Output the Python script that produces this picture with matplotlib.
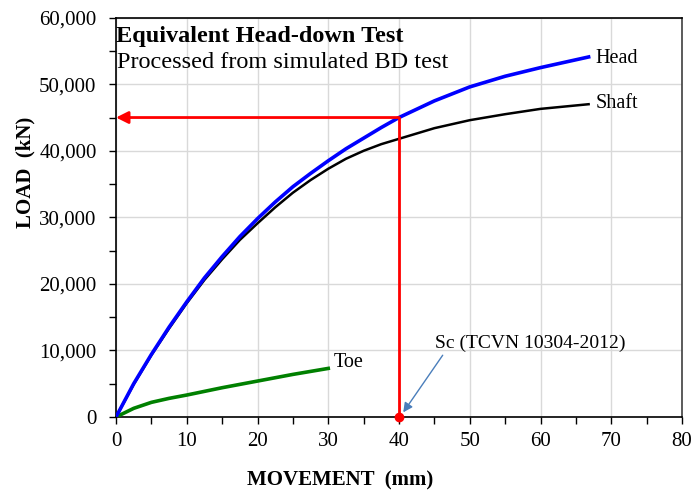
import matplotlib
matplotlib.use("Agg")
import matplotlib.pyplot as plt
from matplotlib.ticker import MultipleLocator, FuncFormatter

plt.rcParams['font.family'] = ['Liberation Serif', 'DejaVu Serif']

# Data (movement in mm, load in kN)
head_x = [0, 2.5, 5, 7.5, 10, 12.5, 15, 17.5, 20, 22.5, 25, 27.5, 30, 32.5, 35, 37.5, 40, 45, 50, 55, 60, 66.8]
head_y = [0, 5000, 9400, 13500, 17300, 20900, 24100, 27100, 29800, 32300, 34600, 36600, 38500, 40300, 41900, 43500, 45000, 47500, 49600, 51200, 52500, 54100]
shaft_x = [0, 2.5, 5, 7.5, 10, 12.5, 15, 17.5, 20, 22.5, 25, 27.5, 30, 32.5, 35, 37.5, 40, 45, 50, 55, 60, 66.8]
shaft_y = [0, 4900, 9300, 13300, 17100, 20600, 23700, 26600, 29100, 31500, 33700, 35600, 37300, 38800, 40000, 41000, 41800, 43400, 44600, 45500, 46300, 47000]
toe_x = [0, 2.5, 5, 7.5, 10, 15, 20, 25, 30]
toe_y = [0, 1300, 2200, 2800, 3300, 4400, 5400, 6400, 7300]

sc_x = 40
sc_load = 45000

x_ticks = [0, 10, 20, 30, 40, 50, 60, 70, 80]
y_ticks = [0, 10000, 20000, 30000, 40000, 50000, 60000]

fig = plt.figure(figsize=(6.92, 4.91), dpi=100)
ax = fig.add_axes([116/692, 74/491, 566/692, 399.3/491])

ax.set_xlim(0, 80)
ax.set_ylim(0, 60000)
ax.set_xticks(x_ticks)
ax.set_yticks(y_ticks)
ax.xaxis.set_minor_locator(MultipleLocator(5))
ax.yaxis.set_minor_locator(MultipleLocator(5000))
ax.yaxis.set_major_formatter(FuncFormatter(lambda v, p: f"{int(v):,}"))
ax.tick_params(which='both', direction='out', length=5, width=1, labelsize=15, colors='black')
ax.tick_params(axis='x', pad=6)
ax.tick_params(axis='y', pad=9)
ax.grid(True, which='major', color='#d9d9d9', linewidth=1)
ax.set_axisbelow(True)
for s in ax.spines.values():
    s.set_linewidth(1.2)
    s.set_color('black')
ax.spines['right'].set_color('#404040')

ax.plot(shaft_x, shaft_y, color='black', lw=1.8, zorder=3)
ax.plot(head_x, head_y, color='#0000ff', lw=2.6, zorder=4)
ax.plot(toe_x, toe_y, color='#008000', lw=2.6, zorder=3)

# red construction lines
ax.plot([sc_x, sc_x], [0, sc_load], color='red', lw=2, zorder=5, clip_on=False)
ax.annotate('', xy=(0, sc_load), xytext=(sc_x, sc_load),
            arrowprops=dict(arrowstyle='-|>', color='red', lw=2,
                            mutation_scale=18, shrinkA=0, shrinkB=0), zorder=5)
ax.plot([sc_x], [0], 'o', color='red', ms=6, zorder=6, clip_on=False)

# labels on curves
ax.text(67.8, 53800, 'Head', fontsize=14.5, va='center', ha='left')
ax.text(67.8, 47100, 'Shaft', fontsize=14.5, va='center', ha='left')
ax.text(30.8, 8200, 'Toe', fontsize=14.5, va='center', ha='left')

ax.annotate('Sc (TCVN 10304-2012)', xy=(40.6, 700), xytext=(45.1, 11000),
            fontsize=14, va='center', ha='left',
            arrowprops=dict(arrowstyle='-|>', color='#4a7ebb', lw=1,
                            mutation_scale=14, shrinkA=0, shrinkB=0,
                            relpos=(0.05, 0.0)))

ax.text(0.0, 56400, 'Equivalent Head-down Test', fontsize=17.5, fontweight='bold',
        va='baseline', ha='left')
ax.text(0.1, 52400, 'Processed from simulated BD test', fontsize=17.5,
        va='baseline', ha='left')

fig.text(340/692, 1 - 480/491, 'MOVEMENT  (mm)', fontsize=15, fontweight='bold',
         ha='center', va='center')
fig.text(25/692, 1 - 172/491, 'LOAD  (kN)', fontsize=15, fontweight='bold',
         ha='center', va='center', rotation=90)

fig.savefig('out.png', dpi=100)
